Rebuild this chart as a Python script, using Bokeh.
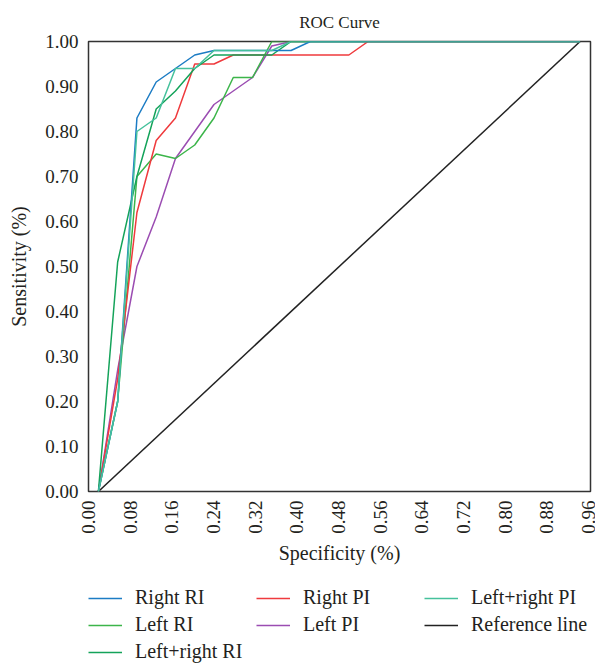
from bokeh.plotting import figure
from bokeh.layouts import column
from bokeh.models import Range1d, FixedTicker, PrintfTickFormatter, Legend, LegendItem
from bokeh.embed import file_html
from bokeh.resources import INLINE
import math

# ---- data ----
fpr = [0.019, 0.056, 0.093, 0.130, 0.167, 0.204, 0.241, 0.278, 0.315, 0.352,
       0.389, 0.426, 0.463, 0.500, 0.537, 0.574, 0.611, 0.648, 0.685, 0.722,
       0.759, 0.796, 0.833, 0.870, 0.907, 0.944]

right_ri = [0.00, 0.20, 0.83, 0.91, 0.94, 0.97, 0.98, 0.98, 0.98, 0.98,
            0.98, 1.00, 1.00, 1.00, 1.00, 1.00, 1.00, 1.00, 1.00, 1.00,
            1.00, 1.00, 1.00, 1.00, 1.00, 1.00]
right_pi = [0.00, 0.25, 0.62, 0.78, 0.83, 0.95, 0.95, 0.97, 0.97, 0.97,
            0.97, 0.97, 0.97, 0.97, 1.00, 1.00, 1.00, 1.00, 1.00, 1.00,
            1.00, 1.00, 1.00, 1.00, 1.00, 1.00]
lr_pi = [0.00, 0.20, 0.80, 0.83, 0.94, 0.94, 0.98, 0.98, 0.98, 0.98,
         1.00, 1.00, 1.00, 1.00, 1.00, 1.00, 1.00, 1.00, 1.00, 1.00,
         1.00, 1.00, 1.00, 1.00, 1.00, 1.00]
left_ri = [0.00, 0.20, 0.70, 0.75, 0.74, 0.77, 0.83, 0.92, 0.92, 1.00,
           1.00, 1.00, 1.00, 1.00, 1.00, 1.00, 1.00, 1.00, 1.00, 1.00,
           1.00, 1.00, 1.00, 1.00, 1.00, 1.00]
left_pi = [0.00, 0.27, 0.50, 0.61, 0.74, 0.80, 0.86, 0.89, 0.92, 0.99,
           1.00, 1.00, 1.00, 1.00, 1.00, 1.00, 1.00, 1.00, 1.00, 1.00,
           1.00, 1.00, 1.00, 1.00, 1.00, 1.00]
lr_ri = [0.00, 0.51, 0.70, 0.85, 0.89, 0.94, 0.97, 0.97, 0.97, 0.97,
         1.00, 1.00, 1.00, 1.00, 1.00, 1.00, 1.00, 1.00, 1.00, 1.00,
         1.00, 1.00, 1.00, 1.00, 1.00, 1.00]
ref_x = [0.019, 0.944]
ref_y = [0.0, 1.0]

x_ticks = [0.00, 0.08, 0.16, 0.24, 0.32, 0.40, 0.48, 0.56, 0.64, 0.72, 0.80, 0.88, 0.96]
y_ticks = [0.0, 0.1, 0.2, 0.3, 0.4, 0.5, 0.6, 0.7, 0.8, 0.9, 1.0]

series_names = ["Right RI", "Right PI", "Left+right PI", "Left RI", "Left PI",
                "Reference line", "Left+right RI"]
series_colors = ["#1C7CC4", "#EF3A3D", "#45C19C", "#3CB54A", "#9B4DB2",
                 "#222222", "#14A35A"]

FONT = "Liberation Serif"
TXT = "#231f20"
LW = 1.5

col = dict(zip(series_names, series_colors))
series_data = {
    "Right RI": (fpr, right_ri),
    "Right PI": (fpr, right_pi),
    "Left+right PI": (fpr, lr_pi),
    "Left RI": (fpr, left_ri),
    "Left PI": (fpr, left_pi),
    "Reference line": (ref_x, ref_y),
    "Left+right RI": (fpr, lr_ri),
}
draw_order = ["Reference line", "Left PI", "Left RI", "Right PI",
              "Left+right RI", "Right RI", "Left+right PI"]

p = figure(width=595, height=580, output_backend="svg", toolbar_location=None,
           x_range=Range1d(0, 0.964), y_range=Range1d(0, 1.0),
           min_border_left=88, min_border_right=5, min_border_top=41,
           min_border_bottom=89, title="ROC Curve")

p.title.align = "center"
p.title.text_font = FONT
p.title.text_font_size = "17px"
p.title.text_font_style = "normal"
p.title.text_color = TXT
p.title.standoff = 20

p.grid.visible = False
p.outline_line_color = "#333333"
p.outline_line_width = 1.5
p.outline_line_alpha = 1.0

for ax in (p.xaxis[0], p.yaxis[0]):
    ax.axis_line_color = None
    ax.major_tick_line_color = None
    ax.minor_tick_line_color = None
    ax.major_tick_out = 0
    ax.major_tick_in = 0
    ax.minor_tick_out = 0
    ax.minor_tick_in = 0
    ax.major_label_text_font = FONT
    ax.major_label_text_font_size = "19px"
    ax.major_label_text_color = TXT
    ax.axis_label_text_font = FONT
    ax.axis_label_text_font_size = "20px"
    ax.axis_label_text_font_style = "normal"
    ax.axis_label_text_color = TXT
    ax.formatter = PrintfTickFormatter(format="%.2f")

p.xaxis.ticker = FixedTicker(ticks=x_ticks)
p.yaxis.ticker = FixedTicker(ticks=y_ticks)
p.xaxis.major_label_orientation = math.pi / 2
p.xaxis.major_label_standoff = 9
p.yaxis.major_label_standoff = 10
p.xaxis.axis_label = "Specificity (%)"
p.yaxis.axis_label = "Sensitivity (%)"
p.xaxis.axis_label_standoff = 5
p.yaxis.axis_label_standoff = 12

for name in draw_order:
    xs, ys = series_data[name]
    p.line(xs, ys, line_color=col[name], line_width=LW)

# ---- legend strip below the chart (its lines sit outside its visible range) ----
lg = figure(width=595, height=85, output_backend="svg", toolbar_location=None,
            x_axis_type=None, y_axis_type=None,
            x_range=Range1d(5, 6), y_range=Range1d(5, 6),
            min_border_left=88, min_border_right=0, min_border_top=0,
            min_border_bottom=0)
lg.grid.visible = False
lg.outline_line_color = None

items = []
for name in series_names:
    xs, ys = series_data[name]
    r = lg.line(xs, ys, line_color=col[name], line_width=LW)
    items.append(LegendItem(label=name, renderers=[r]))

legend = Legend(items=items, orientation="horizontal", ncols=3,
                location=(0, 2), margin=0, padding=0,
                border_line_color=None, background_fill_alpha=0,
                glyph_width=34, glyph_height=20, label_height=20,
                label_width=117, label_standoff=13, spacing=4,
                label_text_font=FONT, label_text_font_size="20px",
                label_text_color=TXT)
lg.add_layout(legend, "center")

layout = column(p, lg, spacing=0)
open("out.html", "w").write(file_html(layout, INLINE))
